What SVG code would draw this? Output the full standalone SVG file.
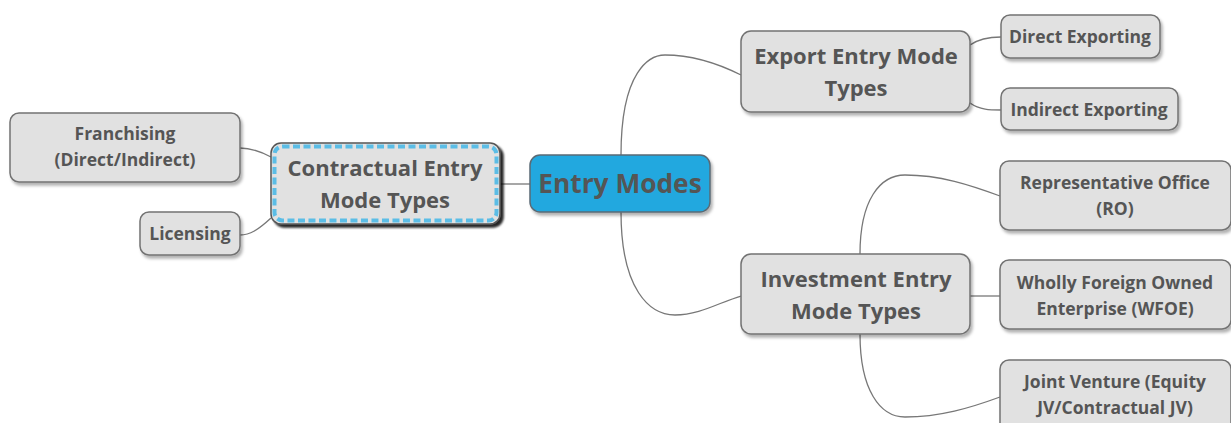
<svg xmlns="http://www.w3.org/2000/svg" width="1231" height="423" viewBox="0 0 1231 423">
<style>
.box{fill:#e1e1e1;stroke:#737373;stroke-width:1.5;filter:url(#sh)}
.t{font-family:"Open Sans","DejaVu Sans",sans-serif;font-weight:700;fill:#555;text-anchor:middle}
.s{font-size:17.5px}
.m{font-size:22px}
.conn path{fill:none;stroke:#777;stroke-width:1.3}
</style>
<defs>
<filter id="sh" x="-10%" y="-10%" width="130%" height="140%">
<feDropShadow dx="2" dy="3" stdDeviation="1.5" flood-color="#000" flood-opacity="0.3"/>
</filter>
<filter id="sh2" x="-10%" y="-10%" width="130%" height="140%">
<feDropShadow dx="3" dy="3" stdDeviation="0.8" flood-color="#000" flood-opacity="0.85"/>
</filter>
</defs>
<rect width="1231" height="423" fill="#fff"/>
<g class="conn">
<path d="M500 184 L530 184"/>
<path d="M271 157 C258 150 250 148 240 148"/>
<path d="M271 218 C258 230 250 235 240 235"/>
<path d="M621 155 C621 70 650 55 665 55 C690 55 715 62 741 75"/>
<path d="M621 212 C621 290 650 315 675 315 C700 315 720 302 741 296"/>
<path d="M970 45 C980 38 990 37 1001 37"/>
<path d="M970 103 C980 110 990 110 1001 110"/>
<path d="M860 254 C860 200 880 175 905 175 C940 175 970 185 1000 196"/>
<path d="M970 296 L1000 296"/>
<path d="M860 334 C860 390 880 417 905 417 C940 417 970 408 1000 397"/>
</g>
<g id="entry-modes">
<rect x="530" y="155" width="180" height="57" rx="10" fill="#22a8df" stroke="#5a6a75" stroke-width="1.5" filter="url(#sh)"/>
<text class="t" x="620" y="193" font-size="26.3">Entry Modes</text>
</g>
<g id="contractual">
<rect x="271" y="143" width="229" height="81" rx="10" fill="#e1e1e1" stroke="#555" stroke-width="1.5" filter="url(#sh2)"/>
<rect x="274.5" y="146.5" width="222" height="74" rx="8" fill="none" stroke="#5bbde6" stroke-width="4" stroke-dasharray="7 3.5"/>
<text class="t m" x="385" y="176">Contractual Entry</text>
<text class="t m" x="385" y="208">Mode Types</text>
</g>
<g id="franchising">
<rect class="box" x="10" y="113" width="230" height="69" rx="9"/>
<text class="t s" x="125" y="140">Franchising</text>
<text class="t s" x="125" y="166">(Direct/Indirect)</text>
</g>
<g id="licensing">
<rect class="box" x="140" y="212" width="100" height="43" rx="9"/>
<text class="t s" x="190" y="240">Licensing</text>
</g>
<g id="export">
<rect class="box" x="741" y="31" width="229" height="81" rx="10"/>
<text class="t m" x="856" y="64">Export Entry Mode</text>
<text class="t m" x="856" y="96">Types</text>
</g>
<g id="direct-exporting">
<rect class="box" x="1001" y="15" width="159" height="43" rx="9"/>
<text class="t s" x="1080" y="43">Direct Exporting</text>
</g>
<g id="indirect-exporting">
<rect class="box" x="1001" y="88" width="177" height="42" rx="9"/>
<text class="t s" x="1089" y="116">Indirect Exporting</text>
</g>
<g id="investment">
<rect class="box" x="741" y="254" width="229" height="80" rx="10"/>
<text class="t m" x="856" y="287">Investment Entry</text>
<text class="t m" x="856" y="319">Mode Types</text>
</g>
<g id="ro">
<rect class="box" x="1000" y="161" width="231" height="69" rx="9"/>
<text class="t s" x="1115" y="189">Representative Office</text>
<text class="t s" x="1115" y="215">(RO)</text>
</g>
<g id="wfoe">
<rect class="box" x="1000" y="260" width="231" height="69" rx="9"/>
<text class="t s" x="1115" y="289">Wholly Foreign Owned</text>
<text class="t s" x="1115" y="315">Enterprise (WFOE)</text>
</g>
<g id="jv">
<rect class="box" x="1000" y="360" width="231" height="75" rx="9"/>
<text class="t s" x="1115" y="388">Joint Venture (Equity</text>
<text class="t s" x="1115" y="414">JV/Contractual JV)</text>
</g>
</svg>
